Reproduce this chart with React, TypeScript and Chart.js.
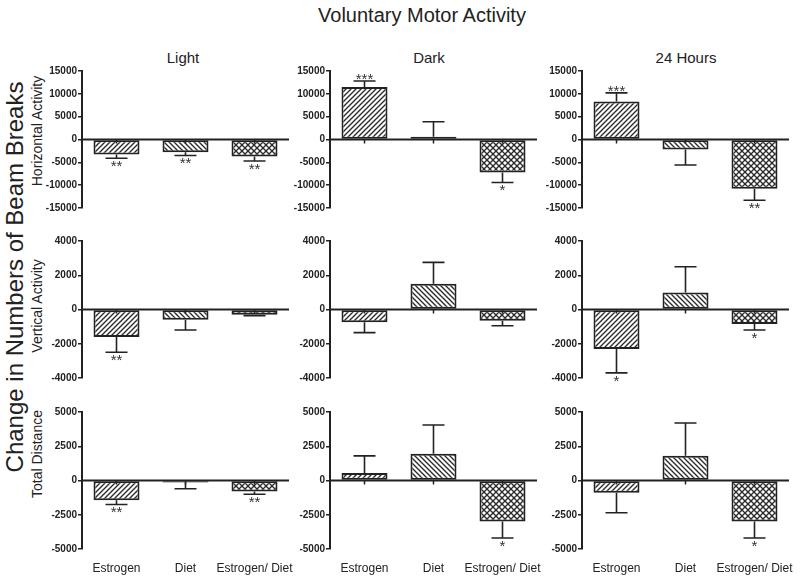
import React, { useEffect, useRef } from 'react';
import { Chart, registerables } from 'chart.js';
Chart.register(...registerables);

// ---------- data ----------
const categories = ['Estrogen', 'Diet', 'Estrogen/ Diet'];
const periods = ['Light', 'Dark', '24 Hours'];
const measures = ['Horizontal Activity', 'Vertical Activity', 'Total Distance'];

const horizontalLight = [-3300, -2800, -3700];
const horizontalLightSem = [800, 700, 1000];
const horizontalLightSig = ['**', '**', '**'];
const horizontalDark = [11500, 600, -7200];
const horizontalDarkSem = [1300, 3300, 2200];
const horizontalDarkSig = ['***', '', '*'];
const horizontal24h = [8300, -2200, -10800];
const horizontal24hSem = [1900, 3400, 2500];
const horizontal24hSig = ['***', '', '**'];

const verticalLight = [-1600, -600, -300];
const verticalLightSem = [900, 600, 60];
const verticalLightSig = ['**', '', ''];
const verticalDark = [-750, 1500, -650];
const verticalDarkSem = [600, 1250, 300];
const verticalDarkSig = ['', '', ''];
const vertical24h = [-2300, 1000, -850];
const vertical24hSem = [1400, 1500, 350];
const vertical24hSig = ['*', '', '*'];

const distanceLight = [-1450, -150, -800];
const distanceLightSem = [300, 450, 200];
const distanceLightSig = ['**', '', '**'];
const distanceDark = [550, 1950, -3000];
const distanceDarkSem = [1250, 2100, 1200];
const distanceDarkSig = ['', '', '*'];
const distance24h = [-900, 1800, -3000];
const distance24hSem = [1450, 2400, 1200];
const distance24hSig = ['', '', '*'];

const horizontalTicks = [-15000, -10000, -5000, 0, 5000, 10000, 15000];
const verticalTicks = [-4000, -2000, 0, 2000, 4000];
const distanceTicks = [-5000, -2500, 0, 2500, 5000];

// ---------- layout ----------
const FONT = 'Arial, "Liberation Sans", Helvetica, sans-serif';
const INK = '#222';
const COL_AXIS_X = [82, 330, 582];
const ROW_TOP = [71, 241, 412];
const AREA_H = 137;
const PLOT_W = 207;
const AXIS_W = 50;
const PAD_T = 16;
const PAD_B = 16;
const PAD_R = 4;
const CANVAS_W = AXIS_W + PLOT_W + PAD_R;
const CANVAS_H = PAD_T + AREA_H + PAD_B;

type PanelDef = { values: number[]; sem: number[]; sig: string[]; ticks: number[] };

const rows: PanelDef[][] = [
  [
    { values: horizontalLight, sem: horizontalLightSem, sig: horizontalLightSig, ticks: horizontalTicks },
    { values: horizontalDark, sem: horizontalDarkSem, sig: horizontalDarkSig, ticks: horizontalTicks },
    { values: horizontal24h, sem: horizontal24hSem, sig: horizontal24hSig, ticks: horizontalTicks },
  ],
  [
    { values: verticalLight, sem: verticalLightSem, sig: verticalLightSig, ticks: verticalTicks },
    { values: verticalDark, sem: verticalDarkSem, sig: verticalDarkSig, ticks: verticalTicks },
    { values: vertical24h, sem: vertical24hSem, sig: vertical24hSig, ticks: verticalTicks },
  ],
  [
    { values: distanceLight, sem: distanceLightSem, sig: distanceLightSig, ticks: distanceTicks },
    { values: distanceDark, sem: distanceDarkSem, sig: distanceDarkSig, ticks: distanceTicks },
    { values: distance24h, sem: distance24hSem, sig: distance24hSig, ticks: distanceTicks },
  ],
];

function makePattern(kind: 'fwd' | 'back' | 'cross'): CanvasPattern | string {
  const s = kind === 'cross' ? 6 : 5;
  const c = document.createElement('canvas');
  c.width = s;
  c.height = s;
  const g = c.getContext('2d');
  if (!g) return '#fff';
  g.fillStyle = '#fff';
  g.fillRect(0, 0, s, s);
  g.strokeStyle = '#2a2a2a';
  g.lineWidth = 1.35;
  const fwd = () => {
    g.beginPath();
    g.moveTo(0, s); g.lineTo(s, 0);
    g.moveTo(-1, 1); g.lineTo(1, -1);
    g.moveTo(s - 1, s + 1); g.lineTo(s + 1, s - 1);
    g.stroke();
  };
  const back = () => {
    g.beginPath();
    g.moveTo(0, 0); g.lineTo(s, s);
    g.moveTo(s - 1, -1); g.lineTo(s + 1, 1);
    g.moveTo(-1, s - 1); g.lineTo(1, s + 1);
    g.stroke();
  };
  if (kind === 'fwd') fwd();
  else if (kind === 'back') back();
  else { fwd(); back(); }
  const p = g.createPattern(c, 'repeat');
  return p || '#fff';
}

function Panel({ def, left, top }: { def: PanelDef; left: number; top: number }) {
  const ref = useRef<HTMLCanvasElement>(null);
  useEffect(() => {
    const canvas = ref.current;
    if (!canvas) return;
    const { values, sem, sig, ticks } = def;
    const overlay = {
      id: 'overlay',
      afterDatasetsDraw(chart: any) {
        const ctx = chart.ctx as CanvasRenderingContext2D;
        const xs = chart.scales.x;
        const ys = chart.scales.y;
        const area = chart.chartArea;
        const y0 = ys.getPixelForValue(0);
        ctx.save();
        ctx.strokeStyle = INK;
        // zero line
        ctx.lineWidth = 2;
        ctx.beginPath();
        ctx.moveTo(area.left, y0);
        ctx.lineTo(area.right, y0);
        ctx.stroke();
        values.forEach((v, i) => {
          const x = xs.getPixelForValue(i);
          // x tick
          ctx.lineWidth = 1.5;
          ctx.beginPath();
          ctx.moveTo(x, y0);
          ctx.lineTo(x, y0 + 4);
          ctx.stroke();
          // error bar
          const dir = v >= 0 ? 1 : -1;
          const yv = ys.getPixelForValue(v);
          const ye = ys.getPixelForValue(v + dir * sem[i]);
          ctx.lineWidth = 1.6;
          ctx.beginPath();
          ctx.moveTo(x, yv);
          ctx.lineTo(x, ye);
          ctx.moveTo(x - 11, ye);
          ctx.lineTo(x + 11, ye);
          ctx.stroke();
          // significance stars
          if (sig[i]) {
            ctx.fillStyle = '#333';
            ctx.font = `15px ${FONT}`;
            ctx.textAlign = 'center';
            if (dir < 0) {
              ctx.textBaseline = 'top';
              ctx.fillText(sig[i], x, ye + 1);
            } else {
              ctx.textBaseline = 'alphabetic';
              ctx.fillText(sig[i], x, ye + 3);
            }
          }
        });
        ctx.restore();
      },
    };
    const chart = new Chart(canvas, {
      type: 'bar',
      data: {
        labels: categories,
        datasets: [
          {
            data: values,
            backgroundColor: [makePattern('fwd'), makePattern('back'), makePattern('cross')] as any,
            borderColor: INK,
            borderWidth: 2,
            borderSkipped: false,
            barPercentage: 46 / 69,
            categoryPercentage: 1,
          },
        ],
      },
      options: {
        animation: false,
        responsive: false,
        maintainAspectRatio: false,
        events: [],
        layout: { padding: { top: PAD_T, bottom: PAD_B, left: 0, right: PAD_R } },
        plugins: {
          legend: { display: false },
          tooltip: { enabled: false },
          title: { display: false },
        },
        scales: {
          x: { display: false, offset: true, grid: { display: false } },
          y: {
            min: ticks[0],
            max: ticks[ticks.length - 1],
            ticks: {
              stepSize: ticks[1] - ticks[0],
              font: { family: FONT, size: 10, weight: 'bold' },
              color: INK,
              padding: 1,
              callback: (val: any) => String(val),
            },
            grid: { drawOnChartArea: false, drawTicks: true, tickLength: 4, color: INK, lineWidth: 1.5 },
            border: { display: true, color: INK, width: 2 },
            afterFit: (s: any) => {
              s.width = AXIS_W;
            },
          },
        },
      } as any,
      plugins: [overlay],
    });
    return () => chart.destroy();
  }, [def]);
  return (
    <canvas
      ref={ref}
      width={CANVAS_W}
      height={CANVAS_H}
      style={{ position: 'absolute', left, top, width: CANVAS_W, height: CANVAS_H }}
    />
  );
}

function Text({ x, y, text, size, rotate }: { x: number; y: number; text: string; size: number; rotate?: boolean }) {
  return (
    <div
      style={{
        position: 'absolute',
        left: x,
        top: y,
        transform: `translate(-50%, -50%)${rotate ? ' rotate(-90deg)' : ''}`,
        fontFamily: FONT,
        fontSize: size,
        lineHeight: 1,
        color: INK,
        whiteSpace: 'nowrap',
      }}
    >
      {text}
    </div>
  );
}

const periodCenters = [183, 429, 686];
const measureCenters = [131, 306, 454];

export default function App() {
  const catW = PLOT_W / categories.length;
  return (
    <div style={{ position: 'absolute', left: 0, top: 0, width: 800, height: 580, background: '#fff', overflow: 'hidden' }}>
      <Text x={422} y={15} text="Voluntary Motor Activity" size={20} />
      <Text x={15} y={277} text="Change in Numbers of Beam Breaks" size={24} rotate />
      {periods.map((p, i) => (
        <Text key={p} x={periodCenters[i]} y={57} text={p} size={15} />
      ))}
      {measures.map((m, i) => (
        <Text key={m} x={37} y={measureCenters[i]} text={m} size={14} rotate />
      ))}
      {rows.map((row, r) =>
        row.map((def, c) => (
          <Panel key={`${r}-${c}`} def={def} left={COL_AXIS_X[c] - AXIS_W} top={ROW_TOP[r] - PAD_T} />
        ))
      )}
      {COL_AXIS_X.map((ax, c) =>
        categories.map((cat, i) => (
          <Text key={`${c}-${cat}`} x={ax + catW * (i + 0.5)} y={568} text={cat} size={12} />
        ))
      )}
    </div>
  );
}
